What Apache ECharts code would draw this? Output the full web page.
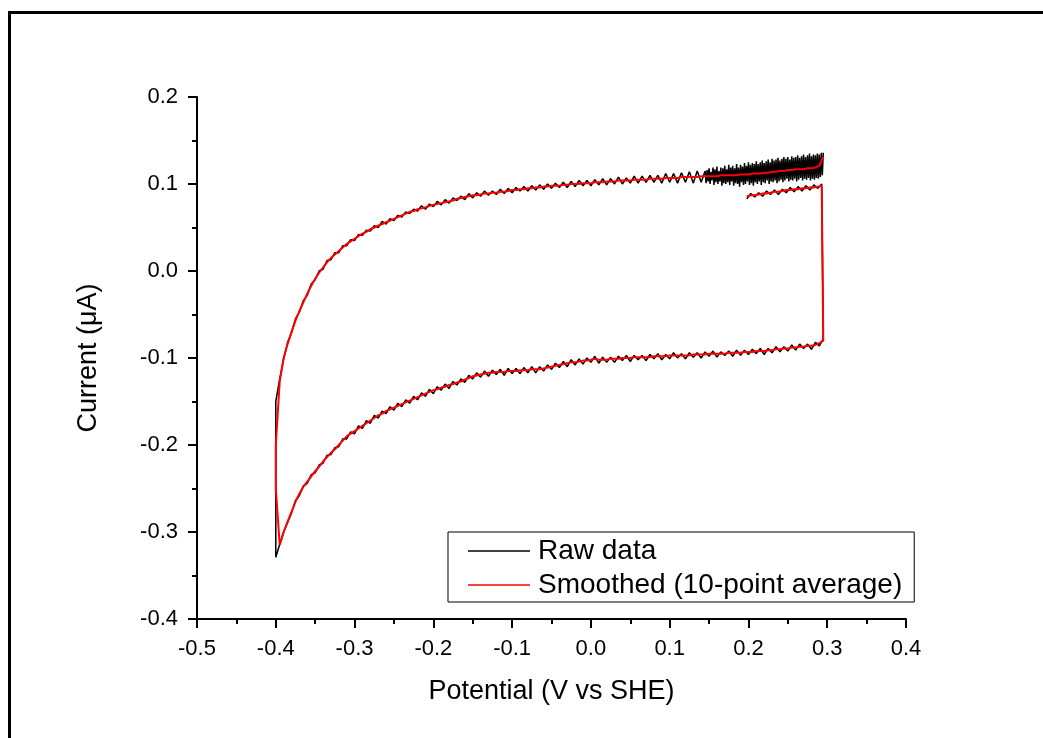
<!DOCTYPE html>
<html>
<head>
<meta charset="utf-8">
<script src="https://cdn.jsdelivr.net/npm/echarts@6/dist/echarts.min.js"></script>
<style>
html,body{margin:0;padding:0;background:#fff;}
#chart{width:1043px;height:738px;}
</style>
</head>
<body>
<div id="chart"></div>
<script>
// ---- Data (potential in V vs SHE, current in µA) ----
// Initial anodic segment 0.2 V -> 0.3 V
const startV = [0.198,0.203,0.208,0.213,0.218,0.223,0.228,0.233,0.238,0.243,
  0.248,0.253,0.258,0.263,0.268,0.273,0.278,0.283,0.288,0.293];
const rawStartI = [0.083,0.089,0.085,0.090,0.086,0.092,0.088,0.093,0.088,0.094,
  0.090,0.096,0.091,0.097,0.092,0.098,0.093,0.099,0.095,0.100];
const smoothStartI = [0.086,0.087,0.087,0.088,0.089,0.089,0.090,0.091,0.091,0.092,
  0.093,0.093,0.094,0.094,0.095,0.095,0.096,0.096,0.097,0.098];

// Cathodic sweep 0.3 V -> -0.4 V
const cathodicV = [
  0.295,0.290,0.285,0.280,0.275,0.270,0.265,0.260,0.255,0.250,
  0.245,0.240,0.235,0.230,0.225,0.220,0.215,0.210,0.205,0.200,
  0.195,0.190,0.185,0.180,0.175,0.170,0.165,0.160,0.155,0.150,
  0.145,0.140,0.135,0.130,0.125,0.120,0.115,0.110,0.105,0.100,
  0.095,0.090,0.085,0.080,0.075,0.070,0.065,0.060,0.055,0.050,
  0.045,0.040,0.035,0.030,0.025,0.020,0.015,0.010,0.005,0.000,
  -0.005,-0.010,-0.015,-0.020,-0.025,-0.030,-0.035,-0.040,-0.045,-0.050,
  -0.055,-0.060,-0.065,-0.070,-0.075,-0.080,-0.085,-0.090,-0.095,-0.100,
  -0.105,-0.110,-0.115,-0.120,-0.125,-0.130,-0.135,-0.140,-0.145,-0.150,
  -0.155,-0.160,-0.165,-0.170,-0.175,-0.180,-0.185,-0.190,-0.195,-0.200,
  -0.205,-0.210,-0.215,-0.220,-0.225,-0.230,-0.235,-0.240,-0.245,-0.250,
  -0.255,-0.260,-0.265,-0.270,-0.275,-0.280,-0.285,-0.290,-0.295,-0.300,
  -0.305,-0.310,-0.315,-0.320,-0.325,-0.330,-0.335,-0.340,-0.345,-0.350,
  -0.355,-0.360,-0.365,-0.370,-0.375,-0.380,-0.385,-0.390,-0.395,-0.400];
const rawCathodicI = [
  -0.078,-0.086,-0.082,-0.090,-0.084,-0.089,-0.084,-0.091,-0.085,-0.092,
  -0.087,-0.093,-0.087,-0.094,-0.089,-0.096,-0.089,-0.095,-0.090,-0.096,
  -0.091,-0.097,-0.091,-0.098,-0.092,-0.097,-0.093,-0.099,-0.092,-0.098,
  -0.093,-0.100,-0.094,-0.099,-0.094,-0.101,-0.095,-0.100,-0.094,-0.101,
  -0.096,-0.102,-0.095,-0.101,-0.096,-0.103,-0.097,-0.102,-0.097,-0.104,
  -0.097,-0.103,-0.098,-0.105,-0.099,-0.105,-0.099,-0.106,-0.098,-0.105,
  -0.100,-0.107,-0.101,-0.108,-0.102,-0.110,-0.104,-0.111,-0.106,-0.113,
  -0.108,-0.115,-0.110,-0.117,-0.110,-0.117,-0.111,-0.118,-0.112,-0.118,
  -0.112,-0.120,-0.113,-0.119,-0.114,-0.121,-0.115,-0.122,-0.117,-0.124,
  -0.120,-0.128,-0.124,-0.131,-0.127,-0.135,-0.130,-0.137,-0.133,-0.141,
  -0.136,-0.144,-0.140,-0.148,-0.144,-0.152,-0.148,-0.156,-0.152,-0.160,
  -0.156,-0.164,-0.161,-0.169,-0.166,-0.175,-0.172,-0.181,-0.178,-0.187,
  -0.185,-0.193,-0.193,-0.202,-0.203,-0.211,-0.212,-0.221,-0.223,-0.232,
  -0.234,-0.244,-0.247,-0.258,-0.264,-0.278,-0.289,-0.300,-0.314,-0.329];
const smoothCathodicI = [
  -0.080,-0.083,-0.085,-0.086,-0.086,-0.087,-0.087,-0.088,-0.088,-0.089,
  -0.089,-0.090,-0.090,-0.091,-0.091,-0.092,-0.092,-0.092,-0.093,-0.093,
  -0.093,-0.094,-0.094,-0.094,-0.094,-0.095,-0.095,-0.095,-0.095,-0.095,
  -0.096,-0.096,-0.096,-0.096,-0.097,-0.097,-0.097,-0.097,-0.097,-0.097,
  -0.098,-0.098,-0.098,-0.098,-0.099,-0.099,-0.099,-0.099,-0.099,-0.100,
  -0.100,-0.100,-0.101,-0.101,-0.101,-0.102,-0.102,-0.102,-0.101,-0.102,
  -0.103,-0.103,-0.104,-0.105,-0.105,-0.106,-0.107,-0.108,-0.109,-0.110,
  -0.111,-0.112,-0.113,-0.113,-0.113,-0.114,-0.114,-0.114,-0.115,-0.115,
  -0.115,-0.116,-0.116,-0.116,-0.117,-0.117,-0.118,-0.119,-0.120,-0.121,
  -0.123,-0.125,-0.127,-0.128,-0.130,-0.131,-0.133,-0.134,-0.136,-0.137,
  -0.139,-0.141,-0.143,-0.145,-0.147,-0.149,-0.151,-0.153,-0.155,-0.157,
  -0.159,-0.161,-0.164,-0.166,-0.169,-0.172,-0.175,-0.178,-0.181,-0.184,
  -0.187,-0.190,-0.195,-0.200,-0.205,-0.209,-0.214,-0.219,-0.225,-0.230,
  -0.236,-0.242,-0.248,-0.256,-0.265,-0.277,-0.288,-0.300,-0.315,-0.250];

// Anodic sweep -0.4 V -> 0.3 V (smoothed on the same potential grid, reversed)
const smoothAnodicI = [
  -0.200,-0.127,-0.100,-0.084,-0.070,-0.057,-0.046,-0.036,-0.026,-0.017,
  -0.009,-0.002,0.004,0.010,0.015,0.019,0.023,0.027,0.031,0.034,
  0.037,0.040,0.043,0.045,0.048,0.050,0.052,0.054,0.056,0.058,
  0.060,0.062,0.064,0.066,0.068,0.069,0.071,0.072,0.073,0.075,
  0.076,0.077,0.078,0.079,0.080,0.081,0.083,0.084,0.085,0.086,
  0.087,0.087,0.088,0.089,0.089,0.090,0.090,0.091,0.091,0.092,
  0.093,0.093,0.094,0.094,0.095,0.095,0.096,0.096,0.097,0.097,
  0.098,0.098,0.098,0.099,0.099,0.100,0.100,0.100,0.101,0.101,
  0.101,0.102,0.102,0.102,0.103,0.103,0.103,0.104,0.104,0.104,
  0.104,0.105,0.105,0.105,0.105,0.106,0.106,0.106,0.106,0.107,
  0.107,0.107,0.107,0.108,0.108,0.108,0.108,0.108,0.109,0.109,
  0.109,0.109,0.109,0.110,0.110,0.110,0.110,0.110,0.111,0.111,
  0.111,0.112,0.112,0.112,0.113,0.113,0.114,0.114,0.115,0.115,
  0.116,0.116,0.117,0.117,0.117,0.118,0.118,0.119,0.121,0.131];

// Raw anodic sweep, -0.4 V -> 0.145 V
const rawAnodicV = [
  -0.400,-0.395,-0.390,-0.385,-0.380,-0.375,-0.370,-0.365,-0.360,-0.355,
  -0.350,-0.345,-0.340,-0.335,-0.330,-0.325,-0.320,-0.315,-0.310,-0.305,
  -0.300,-0.295,-0.290,-0.285,-0.280,-0.275,-0.270,-0.265,-0.260,-0.255,
  -0.250,-0.245,-0.240,-0.235,-0.230,-0.225,-0.220,-0.215,-0.210,-0.205,
  -0.200,-0.195,-0.190,-0.185,-0.180,-0.175,-0.170,-0.165,-0.160,-0.155,
  -0.150,-0.145,-0.140,-0.135,-0.130,-0.125,-0.120,-0.115,-0.110,-0.105,
  -0.100,-0.095,-0.090,-0.085,-0.080,-0.075,-0.070,-0.065,-0.060,-0.055,
  -0.050,-0.045,-0.040,-0.035,-0.030,-0.025,-0.020,-0.015,-0.010,-0.005,
  0.000,0.005,0.010,0.015,0.020,0.025,0.030,0.035,0.040,0.045,
  0.050,0.055,0.060,0.065,0.070,0.075,0.080,0.085,0.090,0.095,
  0.100,0.105,0.110,0.115,0.120,0.125,0.130,0.135,0.140,0.145];
const rawAnodicI = [
  -0.150,-0.124,-0.101,-0.082,-0.071,-0.055,-0.047,-0.034,-0.028,-0.015,
  -0.010,0.000,0.002,0.012,0.013,0.021,0.021,0.029,0.029,0.036,
  0.035,0.042,0.041,0.047,0.046,0.052,0.050,0.057,0.054,0.060,
  0.058,0.064,0.062,0.068,0.066,0.071,0.069,0.075,0.071,0.077,
  0.074,0.080,0.076,0.082,0.078,0.084,0.081,0.086,0.082,0.089,
  0.084,0.090,0.086,0.092,0.087,0.092,0.088,0.094,0.089,0.095,
  0.090,0.096,0.092,0.097,0.092,0.098,0.093,0.099,0.094,0.100,
  0.095,0.101,0.096,0.102,0.096,0.103,0.097,0.104,0.098,0.104,
  0.098,0.105,0.099,0.106,0.099,0.106,0.100,0.108,0.100,0.107,
  0.101,0.109,0.101,0.109,0.102,0.110,0.102,0.110,0.101,0.112,
  0.102,0.112,0.101,0.113,0.102,0.114,0.101,0.115,0.102,0.115];

// Raw anodic sweep, noisy high-potential band 0.146 V -> 0.295 V (dense sampling)
const rawBandV = [
  0.14625,0.14750,0.14875,0.15000,0.15125,0.15250,0.15375,0.15500,0.15625,0.15750,
  0.15875,0.16000,0.16125,0.16250,0.16375,0.16500,0.16625,0.16750,0.16875,0.17000,
  0.17125,0.17250,0.17375,0.17500,0.17625,0.17750,0.17875,0.18000,0.18125,0.18250,
  0.18375,0.18500,0.18625,0.18750,0.18875,0.19000,0.19125,0.19250,0.19375,0.19500,
  0.19625,0.19750,0.19875,0.20000,0.20125,0.20250,0.20375,0.20500,0.20625,0.20750,
  0.20875,0.21000,0.21125,0.21250,0.21375,0.21500,0.21625,0.21750,0.21875,0.22000,
  0.22125,0.22250,0.22375,0.22500,0.22625,0.22750,0.22875,0.23000,0.23125,0.23250,
  0.23375,0.23500,0.23625,0.23750,0.23875,0.24000,0.24125,0.24250,0.24375,0.24500,
  0.24625,0.24750,0.24875,0.25000,0.25125,0.25250,0.25375,0.25500,0.25625,0.25750,
  0.25875,0.26000,0.26125,0.26250,0.26375,0.26500,0.26625,0.26750,0.26875,0.27000,
  0.27125,0.27250,0.27375,0.27500,0.27625,0.27750,0.27875,0.28000,0.28125,0.28250,
  0.28375,0.28500,0.28625,0.28750,0.28875,0.29000,0.29125,0.29250,0.29375,0.29500];
const rawBandI = [
  0.101,0.116,0.103,0.118,0.100,0.114,0.104,0.119,0.099,0.117,
  0.102,0.120,0.100,0.115,0.103,0.119,0.098,0.118,0.101,0.121,
  0.100,0.117,0.102,0.122,0.099,0.119,0.103,0.121,0.098,0.118,
  0.101,0.123,0.100,0.119,0.097,0.122,0.102,0.120,0.099,0.124,
  0.100,0.121,0.103,0.125,0.099,0.122,0.101,0.124,0.098,0.123,
  0.102,0.126,0.100,0.123,0.103,0.125,0.099,0.127,0.102,0.124,
  0.101,0.126,0.104,0.128,0.100,0.125,0.103,0.129,0.102,0.127,
  0.104,0.128,0.101,0.130,0.103,0.127,0.105,0.129,0.102,0.131,
  0.104,0.129,0.106,0.131,0.103,0.128,0.105,0.132,0.104,0.130,
  0.106,0.131,0.103,0.133,0.105,0.130,0.107,0.132,0.104,0.134,
  0.106,0.131,0.105,0.133,0.107,0.135,0.104,0.132,0.106,0.134,
  0.105,0.133,0.107,0.135,0.106,0.134,0.108,0.136,0.110,0.136];

const seriesNames = ['Raw data', 'Smoothed (10-point average)'];
const xTitle = 'Potential (V vs SHE)';
const yTitle = 'Current (\u03bcA)';

// ---- Build series data from the arrays ----
function pairs(v, i) { return v.map(function (x, k) { return [x, i[k]]; }); }
const anodicGridV = cathodicV.slice().reverse();
const rawData = pairs(startV, rawStartI)
  .concat(pairs(cathodicV, rawCathodicI))
  .concat(pairs(rawAnodicV, rawAnodicI))
  .concat(pairs(rawBandV, rawBandI));
const smoothData = pairs(startV, smoothStartI)
  .concat(pairs(cathodicV, smoothCathodicI))
  .concat(pairs(anodicGridV, smoothAnodicI));

const FONT = '"Liberation Sans", Arial, sans-serif';
function axisCommon() {
  return {
    type: 'value',
    axisLine: { show: true, onZero: false, lineStyle: { color: '#000', width: 2 } },
    axisTick: { show: true, inside: false, length: 9, lineStyle: { color: '#000', width: 2 } },
    minorTick: { show: true, splitNumber: 2, length: 5, lineStyle: { color: '#000', width: 2 } },
    splitLine: { show: false },
    minorSplitLine: { show: false },
    axisLabel: {
      color: '#000', fontSize: 22, fontFamily: FONT,
      formatter: function (v) { return (Math.abs(v) < 1e-9 ? 0 : v).toFixed(1); }
    },
    nameLocation: 'middle',
    nameTextStyle: { color: '#000', fontSize: 27, fontFamily: FONT }
  };
}

const chart = echarts.init(document.getElementById('chart'), null, { renderer: 'canvas' });
const xAxis = Object.assign(axisCommon(), { min: -0.5, max: 0.4, interval: 0.1, name: xTitle, nameGap: 59 });
xAxis.axisLabel.margin = 19;
const yAxis = Object.assign(axisCommon(), { min: -0.4, max: 0.2, interval: 0.1, name: yTitle, nameGap: 95, nameRotate: 90 });
yAxis.axisLabel.margin = 19;

chart.setOption({
  animation: false,
  backgroundColor: '#fff',
  graphic: [{
    type: 'rect', z: 100, silent: true,
    shape: { x: 9.5, y: 12.5, width: 1200, height: 900 },
    style: { fill: 'none', stroke: '#000', lineWidth: 3 }
  }],
  grid: { left: 197, top: 97, width: 709, height: 522 },
  legend: {
    data: seriesNames,
    orient: 'vertical',
    left: 448, top: 532,
    padding: [5, 12, 3, 20],
    itemGap: 6,
    icon: 'rect',
    itemWidth: 62, itemHeight: 1.5,
    backgroundColor: '#fff',
    borderColor: '#000', borderWidth: 1, borderRadius: 0,
    textStyle: { color: '#000', fontSize: 28, fontFamily: FONT, padding: [0, 0, 0, 3] }
  },
  xAxis: xAxis,
  yAxis: yAxis,
  series: [
    {
      name: seriesNames[0], type: 'line', data: rawData, symbol: 'none', z: 2,
      lineStyle: { color: '#000', width: 1.5 }, itemStyle: { color: '#000' }
    },
    {
      name: seriesNames[1], type: 'line', data: smoothData, symbol: 'none', z: 3,
      lineStyle: { color: '#ff0000', width: 2 }, itemStyle: { color: '#ff0000' }
    }
  ]
});
</script>
</body>
</html>
